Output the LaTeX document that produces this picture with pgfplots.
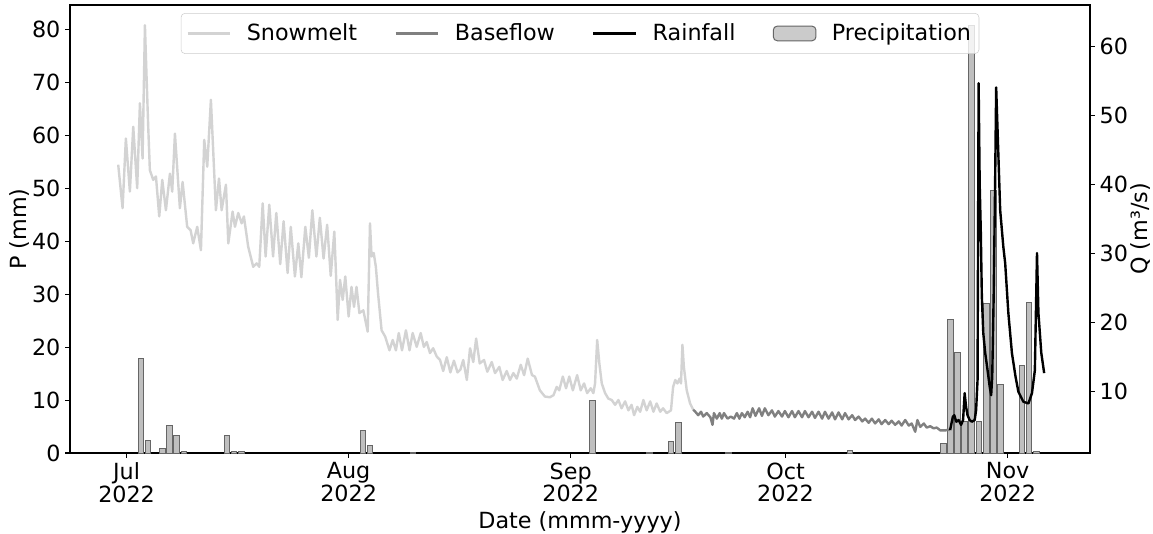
\documentclass[border=0pt]{standalone}
\usepackage{fontspec}
\setmainfont{DejaVu Sans}
\usepackage{pgfplots}
\pgfplotsset{compat=1.18}

% days counted from 1 July 2022
\definecolor{snowc}{HTML}{D3D3D3}
\definecolor{basec}{HTML}{808080}
\definecolor{barfill}{HTML}{BFBFBF}
\definecolor{baredge}{HTML}{666666}
\newcommand\lbl{\fontsize{16.7}{17}\selectfont}
\pgfplotsset{
  linelegend/.style={legend image code/.code={\draw[##1] (0pt,0pt) -- (32pt,0pt);}},
  barlegend/.style={legend image code/.code={\draw[##1] (0pt,-5.5pt) rectangle (32pt,5.5pt);}},
  common/.style={
    scale only axis, width=765pt, height=336pt,
    xmin=-7.9, xmax=134.5,
    tick align=outside, major tick length=3.65pt,
    every tick/.style={black, line width=0.8pt},
    axis line style={line width=0.8pt},
    tick label style={font=\lbl},
    label style={font=\lbl},
    /pgf/number format/assume math mode=true,
  }
}

\begin{document}
\begin{tikzpicture}
% daily precipitation (left axis)
\begin{axis}[common,
  ymin=0, ymax=84.7,
  ytick={0,10,...,80}, ytick pos=left, xtick pos=bottom,
  xtick={0,31,62,92,123},
  xticklabels={{Jul\\2022},{Aug\\2022},{Sep\\2022},{Oct\\2022},{Nov\\2022}},
  xticklabel style={align=center},
  xlabel={Date (mmm-yyyy)}, ylabel={P (mm)},
  ylabel shift=-5pt,
]
\addplot[ybar, bar width=0.8, fill=barfill, draw=baredge, line width=0.75pt]
coordinates {
(2,17.8) (3,2.4) (5,0.8) (6,5.2) (7,3.3) (8,0.2)
(14,3.3) (15,0.2) (16,0.2)
(33,4.3) (34,1.4) (40,0.15)
(65,10.0) (73,0.15) (76,2.1) (77,5.8) (84,0.15)
(101,0.4)
(114,1.8) (115,25.2) (116,19.0) (117,6.0) (118,80.8) (119,6.05)
(120,28.2) (121,49.6) (122,12.9) (125,16.5) (126,28.4) (127,0.25)
};
\end{axis}

% discharge (right axis)
\begin{axis}[common,
  ymin=1.12, ymax=66.04,
  hide x axis,
  ytick={10,20,...,60}, ytick pos=right, yticklabel pos=right,
  ylabel={Q (m³/s)}, ylabel shift=-4.5pt,
  legend columns=4,
  legend style={at={(0.5,0.982)}, anchor=north, font=\lbl,
    fill=white, fill opacity=0.8, text opacity=1, draw opacity=1,
    draw=black!20, rounded corners=3pt, inner xsep=4pt, inner ysep=6pt,
    /tikz/every odd column/.append style={column sep=9.5pt},
    /tikz/every even column/.append style={column sep=26pt}},
  linelegend,
]
\addplot[snowc, line width=1.8pt, line join=round] coordinates {
(-1.17,42.9) (-0.56,36.6) (-0.10,46.7) (0.46,39.0) (0.93,48.4) (1.48,39.5)
(1.86,51.8) (2.23,43.8) (2.56,63.1) (2.79,55.6) (3.02,48.4) (3.25,42.1)
(3.72,40.7) (4.10,41.2) (4.56,35.4) (4.98,40.7) (5.49,36.3) (6.05,41.6)
(6.37,39.0) (6.75,47.4) (7.44,36.6) (7.82,40.4) (8.46,33.9) (8.94,33.4)
(9.30,31.5) (9.86,33.9) (10.38,30.5) (10.84,46.5) (11.26,42.6) (11.77,52.3)
(12.47,36.3) (12.90,40.9) (13.27,36.3) (13.87,40.0) (14.20,31.5) (14.80,36.1)
(15.13,33.9) (15.59,35.9) (16.06,34.4) (16.38,35.4) (16.98,31.0) (17.68,28.1)
(18.16,28.6) (18.52,28.1) (19.00,37.3) (19.41,29.6) (19.92,37.1) (20.45,29.6)
(20.90,35.9) (21.45,28.5) (21.92,34.7) (22.48,27.2) (22.92,33.9) (23.50,26.7)
(23.97,31.5) (24.40,26.6) (24.95,33.9) (25.45,29.4) (25.93,36.3) (26.50,29.6)
(26.98,35.2) (27.50,29.3) (28.00,34.2) (28.50,26.8) (29.00,33.2) (29.23,27.2)
(29.47,20.4) (29.80,26.2) (30.17,23.3) (30.53,26.7) (31.00,20.9) (31.40,25.2)
(31.75,22.3) (32.10,25.2) (32.50,21.4) (33.05,21.8) (33.66,18.7) (33.98,34.4)
(34.20,29.6) (34.50,30.1) (34.80,28.1) (35.10,24.3) (35.60,18.9) (36.10,18.0)
(36.70,16.0) (37.15,17.5) (37.60,16.0) (38.00,18.5) (38.45,16.0) (39.00,18.9)
(39.50,16.0) (39.94,18.5) (40.50,16.5) (41.06,18.5) (41.50,16.5) (41.90,17.2)
(42.36,15.6) (42.80,16.3) (43.30,15.1) (43.76,14.6) (44.20,13.0) (44.70,15.0)
(45.20,12.8) (45.70,14.5) (46.20,12.8) (46.60,13.2) (47.00,14.6) (47.50,11.7)
(47.95,16.3) (48.40,14.3) (48.80,17.7) (49.30,14.1) (49.90,14.6) (50.36,12.9)
(50.98,14.3) (51.44,12.7) (52.04,13.6) (52.50,11.7) (53.07,13.0) (53.53,11.7)
(54.00,12.7) (54.47,11.9) (55.03,13.9) (55.50,12.4) (56.00,14.8) (56.60,12.4)
(57.00,12.2) (57.70,10.2) (58.40,9.3) (59.10,9.2) (59.60,9.5) (60.05,10.7)
(60.40,10.2) (60.90,12.2) (61.35,10.5) (61.80,12.2) (62.30,10.2) (62.90,12.4)
(63.40,10.2) (63.87,11.2) (64.30,9.8) (64.80,10.5) (65.17,9.8) (65.40,11.2)
(65.70,17.5) (66.00,14.1) (66.34,11.2) (66.80,9.8) (67.26,9.0) (67.73,8.8)
(68.20,8.1) (68.66,8.8) (69.10,7.6) (69.60,8.6) (70.06,7.3) (70.50,8.1)
(70.85,6.6) (71.30,7.8) (71.70,7.1) (72.15,8.8) (72.60,7.3) (73.10,8.6)
(73.55,7.1) (74.00,8.3) (74.50,7.1) (74.90,7.6) (75.40,6.9) (76.00,7.3)
(76.30,10.7) (76.60,11.7) (76.90,11.2) (77.20,11.9) (77.40,11.2) (77.60,16.8)
(77.80,13.6) (78.20,10.2) (78.67,8.3) (79.10,7.4)
};
\addlegendentry{Snowmelt}
\addplot[basec, line width=1.8pt, line join=round] coordinates {
(79.10,7.4) (79.40,7.1) (79.80,6.6) (80.20,7.1) (80.50,6.4) (81.00,6.9)
(81.50,6.3) (81.80,5.2) (82.00,6.9) (82.40,6.1) (82.80,6.9) (83.10,6.1)
(83.40,6.9) (83.90,6.1) (84.35,6.4) (84.80,6.1) (85.20,6.9) (85.55,6.1)
(85.90,6.9) (86.30,6.3) (86.70,7.1) (87.05,6.3) (87.40,7.6) (87.80,6.5)
(88.30,7.6) (88.70,6.5) (89.10,7.6) (89.60,6.6) (90.10,7.3) (90.50,6.4)
(91.00,7.2) (91.50,6.4) (91.90,7.2) (92.40,6.3) (92.90,7.2) (93.30,6.3)
(93.80,7.2) (94.30,6.3) (94.70,7.2) (95.20,6.3) (95.70,7.1) (96.10,6.2)
(96.60,7.1) (97.10,6.1) (97.50,7.1) (98.00,6.1) (98.50,7.0) (98.90,6.0)
(99.40,7.0) (99.90,6.0) (100.30,6.9) (100.80,6.0) (101.30,6.6) (101.70,5.9)
(102.20,6.4) (102.70,5.7) (103.10,6.1) (103.60,5.5) (104.05,6.1) (104.50,5.4)
(105.00,6.0) (105.40,5.3) (105.90,5.9) (106.40,5.3) (106.80,5.8) (107.30,5.2)
(107.80,5.7) (108.20,5.1) (108.70,5.9) (109.20,5.1) (109.60,5.4) (110.10,4.2)
(110.40,5.9) (110.80,4.9) (111.30,5.4) (111.70,4.8) (112.20,5.0) (112.65,4.7)
(113.10,4.8) (113.60,4.4) (114.30,4.4) (114.75,4.5) (114.97,4.45)
};
\addlegendentry{Baseflow}
\addplot[black, line width=1.8pt, line join=round] coordinates {
(114.97,4.45) (115.36,6.4) (115.55,6.6) (115.83,5.65) (116.16,5.9) (116.50,5.2)
(116.78,5.9) (117.00,9.8) (117.20,7.8) (117.40,6.6) (117.70,5.9) (118.00,5.65)
(118.40,5.9) (118.60,7.35) (118.80,11.7) (118.95,54.7) (119.10,40.0) (119.25,33.4)
(119.40,23.8) (119.60,18.5) (119.87,15.6) (120.20,13.1) (120.50,10.7) (120.70,9.5)
(120.85,12.2) (121.05,23.8) (121.25,40.0) (121.40,54.1) (121.96,36.3) (122.40,31.0)
(122.66,28.6) (123.10,21.4) (123.60,15.6) (124.10,12.2) (124.50,10.0) (125.20,8.55)
(125.90,8.3) (126.40,9.8) (126.80,13.1) (127.10,30.1) (127.30,21.4) (127.70,15.6)
(128.10,12.7)
};
\addlegendentry{Rainfall}
\addlegendimage{barlegend, fill=barfill, draw=baredge, line width=0.75pt}
\addlegendentry{Precipitation}
\end{axis}
\pgfresetboundingbox
\path[use as bounding box] (-52.5pt,-60pt) rectangle (812.25pt,339.75pt);
\end{tikzpicture}
\end{document}
